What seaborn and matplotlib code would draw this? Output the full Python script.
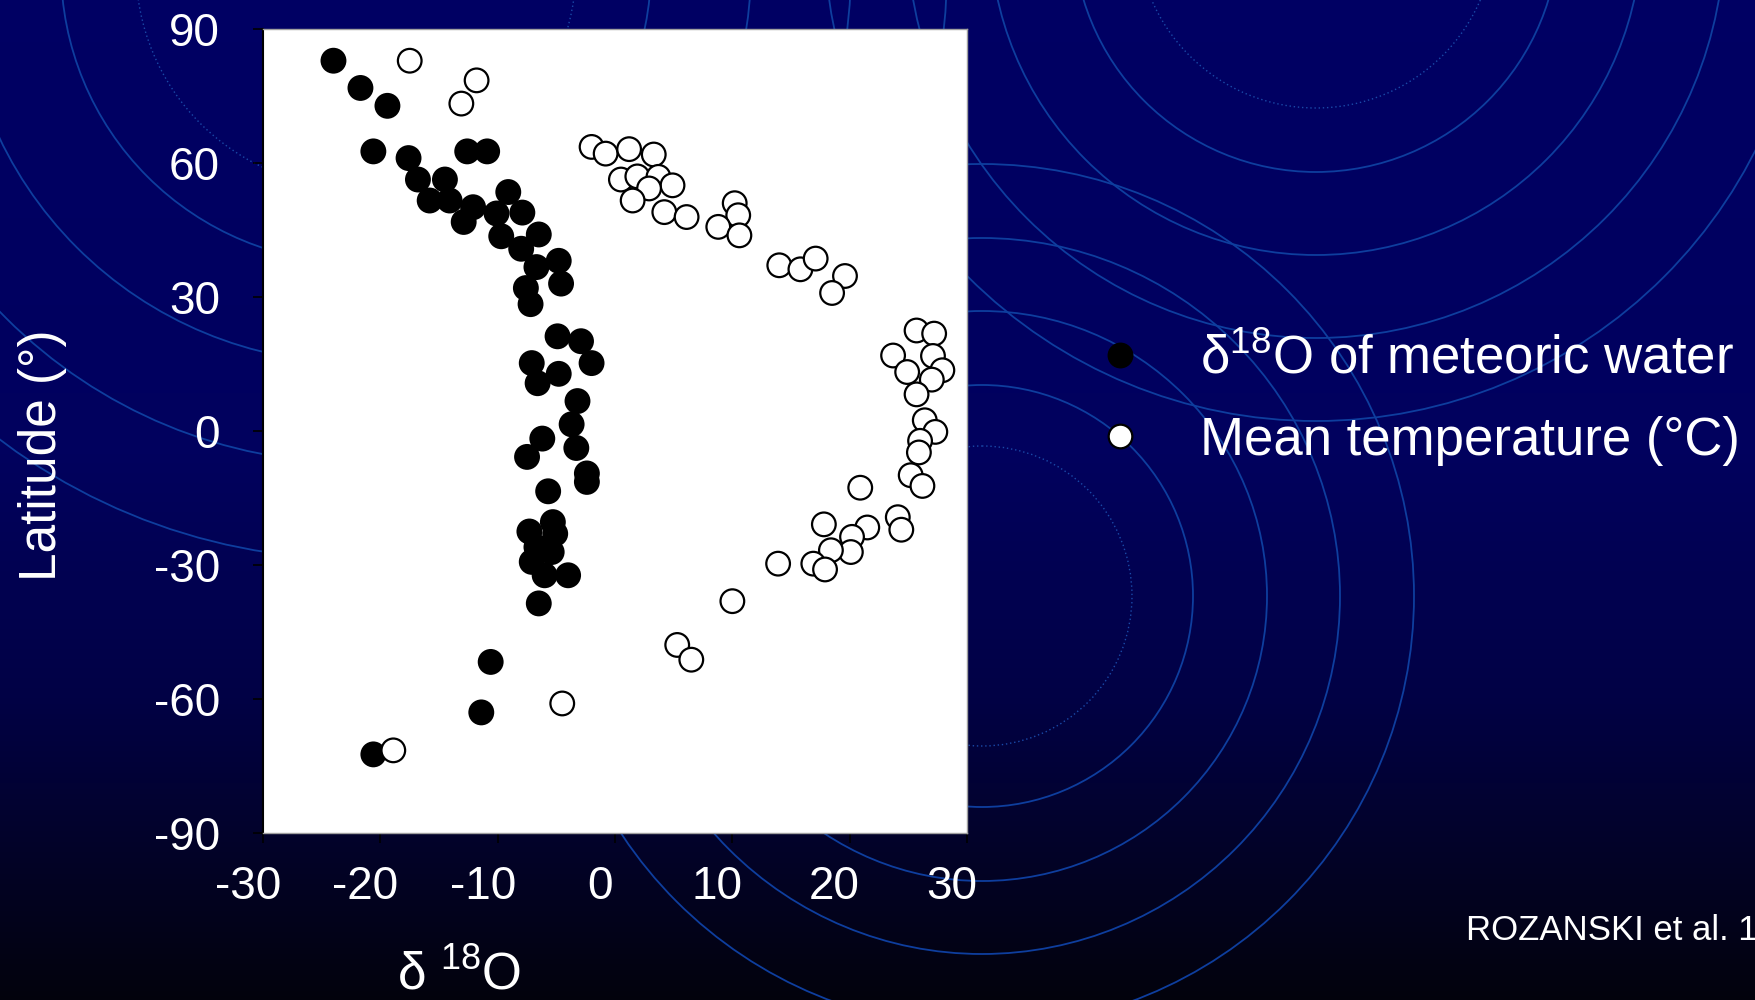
import numpy as np
import pandas as pd
import matplotlib
matplotlib.use("Agg")
import matplotlib.pyplot as plt
import matplotlib.transforms as mtrans
from matplotlib.patches import Circle
import seaborn as sns

# delta 18O of meteoric water (permil) vs latitude (deg)
d18o_vals = [-24.0, -21.7, -19.4, -20.6, -17.6, -12.6, -10.9, -16.8, -14.5, -15.8,
             -14.1, -12.1, -12.9, -10.1, -9.1, -7.9, -9.7, -6.5, -8.0, -6.7,
             -4.8, -4.6, -7.6, -7.2, -4.9, -2.9, -2.0, -7.1, -4.8, -6.6,
             -3.2, -3.7, -6.2, -7.5, -3.3, -2.4, -2.4, -5.7, -5.3, -7.3,
             -5.1, -6.7, -5.4, -7.1, -6.0, -4.0, -6.5, -10.6, -11.4, -20.6]
d18o_lat = [82.9, 76.8, 72.8, 62.6, 61.1, 62.6, 62.6, 56.3, 56.3, 51.6,
            51.6, 50.1, 46.8, 48.7, 53.5, 48.9, 43.6, 44.0, 40.8, 36.7,
            38.1, 33.0, 32.0, 28.4, 21.2, 20.1, 15.2, 15.2, 12.8, 10.7,
            6.7, 1.5, -1.7, -5.8, -3.8, -9.5, -11.4, -13.5, -20.4, -22.5,
            -23.0, -26.0, -27.1, -29.3, -32.3, -32.3, -38.6, -51.7, -63.0, -72.4]

# mean annual temperature (deg C) vs latitude (deg)
temp_vals = [-17.5, -11.8, -13.1, -2.0, -0.8, 1.2, 3.3, 0.5, 1.9, 3.7,
             4.9, 2.9, 1.5, 4.2, 6.1, 10.2, 10.5, 8.8, 10.6, 14.0,
             15.8, 17.1, 19.6, 18.5, 25.7, 27.2, 23.7, 27.1, 24.9, 27.9,
             27.0, 25.7, 26.4, 27.3, 26.0, 25.9, 25.2, 26.2, 20.9, 24.1,
             24.4, 17.8, 21.5, 20.2, 20.1, 18.4, 16.9, 17.9, 13.9, 10.0,
             5.3, 6.5, -4.5, -18.9]
temp_lat = [82.9, 78.5, 73.3, 63.6, 62.1, 63.1, 61.9, 56.3, 57.0, 56.9,
            55.0, 54.3, 51.6, 49.0, 47.9, 51.0, 48.3, 45.7, 43.8, 37.1,
            36.2, 38.6, 34.7, 30.9, 22.5, 21.8, 16.9, 16.8, 13.2, 13.6,
            11.5, 8.2, 2.4, -0.2, -2.2, -4.8, -9.9, -12.3, -12.7, -19.3,
            -22.1, -20.9, -21.6, -23.7, -27.1, -26.7, -29.7, -31.0, -29.7, -38.1,
            -47.9, -51.2, -61.0, -71.5]

label_d18o = "δ$^{\\mathrm{18}}$O of meteoric water"
label_temp = "Mean temperature (°C)"
x_ticks = [-30, -20, -10, 0, 10, 20, 30]
y_ticks = [-90, -60, -30, 0, 30, 60, 90]

df = pd.concat([
    pd.DataFrame({"value": d18o_vals, "lat": d18o_lat, "series": label_d18o}),
    pd.DataFrame({"value": temp_vals, "lat": temp_lat, "series": label_temp}),
], ignore_index=True)

sns.set_style("white")
plt.rcParams["font.family"] = ["Liberation Sans", "DejaVu Sans"]
plt.rcParams["mathtext.fontset"] = "custom"
plt.rcParams["mathtext.rm"] = "Liberation Sans"
plt.rcParams["mathtext.it"] = "Liberation Sans:italic"
plt.rcParams["axes.unicode_minus"] = False

fig = plt.figure(figsize=(17.55, 10), dpi=100)

# slide background: navy gradient + concentric rings
bg = fig.add_axes([0, 0, 1, 1], zorder=-10)
bg.set_xlim(0, 1755)
bg.set_ylim(1000, 0)
bg.axis("off")
yy = np.linspace(0, 1, 200)
grad = np.zeros((200, 1, 3))
grad[:, 0, 2] = np.interp(yy, [0, 0.45, 0.7, 1.0], [0.39, 0.37, 0.27, 0.05])
grad[:, 0, 0] = np.interp(yy, [0, 1], [0.0, 0.01])
grad[:, 0, 1] = np.interp(yy, [0, 1], [0.0, 0.01])
bg.imshow(grad, extent=(0, 1755, 1000, 0), aspect="auto", interpolation="bilinear")
ring_col = "#0e3e9e"
for (cx, cy), radii in [((356, -32), [220, 295, 395, 495, 591]),
                        ((1316, -71), [179, 243, 326, 409, 492]),
                        ((982, 596), [150, 211, 285, 358, 432])]:
    for i, r in enumerate(radii):
        if i == 0:
            bg.add_patch(Circle((cx, cy), r, fill=False, ec="#1a4aa8", lw=1.0, ls=(0, (1, 2))))
        else:
            bg.add_patch(Circle((cx, cy), r, fill=False, ec=ring_col, lw=1.3))

ax = fig.add_axes([0.1499, 0.167, 0.4011, 0.804])
ax.set_facecolor("white")
sns.scatterplot(data=df, x="value", y="lat", hue="series",
                palette={label_d18o: "black", label_temp: "white"},
                s=290, edgecolor="black", linewidth=1.6, ax=ax, zorder=3)

ax.set_xlim(-30, 30)
ax.set_ylim(-90, 90)
ax.set_xticks(x_ticks)
ax.set_yticks(y_ticks)
ax.tick_params(direction="out", length=7, width=1.2, color="black",
               labelcolor="white", labelsize=33, left=True, bottom=True)
ax.tick_params(axis="y", pad=24)
ax.tick_params(axis="x", pad=16)
for lab in ax.get_xticklabels():
    lab.set_transform(lab.get_transform() + mtrans.ScaledTranslation(-0.15, 0, fig.dpi_scale_trans))

for side in ["top", "right", "bottom"]:
    ax.spines[side].set_color("#a0a0a0")
    ax.spines[side].set_linewidth(1.0)
ax.spines["left"].set_color("black")
ax.spines["left"].set_linewidth(1.5)

ax.set_xlabel("δ $^{\\mathrm{18}}$O", fontsize=37, color="white")
ax.xaxis.set_label_coords(0.278, -0.195)
ax.xaxis.label.set_va("baseline")
ax.set_ylabel("Latitude (°)", fontsize=37, color="white")
ax.yaxis.set_label_coords(-0.314, 0.47)
ax.yaxis.label.set_va("center")

sns.move_legend(ax, "center left", bbox_to_anchor=(0.6234, 0.600),
                bbox_transform=fig.transFigure, frameon=False, title=None,
                fontsize=38, labelcolor="white", handlelength=1.0,
                handletextpad=1.0, labelspacing=0.6, borderpad=0, borderaxespad=0)

fig.text(0.8353, 0.06, "ROZANSKI et al. 1", color="white", fontsize=25,
         ha="left", va="baseline")

fig.savefig("out.png", dpi=100)
